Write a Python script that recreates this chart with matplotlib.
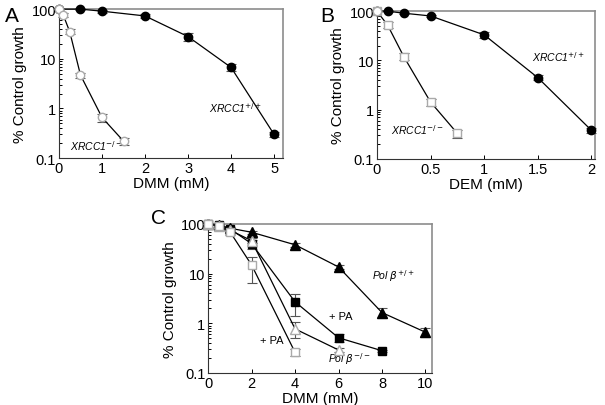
import matplotlib
matplotlib.use("Agg")
import matplotlib.pyplot as plt
import numpy as np

plt.rcParams['font.family'] = ['Liberation Sans', 'DejaVu Sans']

# Panel A (DMM)
a_wt_x = [0, 0.5, 1, 2, 3, 4, 5]
a_wt_y = [100, 100, 91, 73, 28, 6.7, 0.30]
a_wt_e = [0, 5, 6, 6, 5, 1.0, 0.03]
a_ko_x = [0, 0.1, 0.25, 0.5, 1, 1.5]
a_ko_y = [100, 76, 35, 4.7, 0.66, 0.22]
a_ko_e = [0, 6, 4, 0.6, 0.12, 0.04]

# Panel B (DEM)
b_wt_x = [0, 0.1, 0.25, 0.5, 1, 1.5, 2]
b_wt_y = [100, 100, 91, 80, 33, 4.46, 0.38]
b_wt_e = [0, 5, 5, 5, 5, 0.5, 0.04]
b_ko_x = [0, 0.1, 0.25, 0.5, 0.75]
b_ko_y = [100, 52, 12, 1.43, 0.33]
b_ko_e = [0, 7, 2, 0.25, 0.06]

# Panel C (DMM, Pol beta)
c_wt_x = [0, 0.5, 1, 2, 4, 6, 8, 10]
c_wt_y = [100, 95, 82, 68, 38, 13.6, 1.64, 0.66]
c_wt_e = [0, 4, 4, 4, 3, 1.5, 0.35, 0.13]
c_wtpa_x = [0, 0.5, 1, 2, 4, 6, 8]
c_wtpa_y = [100, 93, 80, 40, 2.7, 0.51, 0.28]
c_wtpa_lo = [0, 4, 4, 8, 1.3, 0.1, 0.01]
c_wtpa_hi = [0, 4, 4, 8, 1.2, 0.1, 0.01]
c_ko_x = [0, 0.5, 1, 2, 4, 6]
c_ko_y = [100, 92, 75, 46, 0.77, 0.29]
c_ko_lo = [0, 4, 5, 5, 0.27, 0.03]
c_ko_hi = [0, 4, 5, 5, 0.28, 0.03]
c_kopa_x = [0, 0.5, 1, 2, 4]
c_kopa_y = [100, 90, 70, 14.9, 0.26]
c_kopa_lo = [0, 5, 8, 8.4, 0.04]
c_kopa_hi = [0, 5, 8, 7.0, 0.04]

a_ticks = [0, 1, 2, 3, 4, 5]
b_ticks = [0, 0.5, 1, 1.5, 2]
b_ticklabels = ['0', '0.5', '1', '1.5', '2']
c_ticks = [0, 2, 4, 6, 8, 10]

fig = plt.figure(figsize=(6.05, 4.06), dpi=100)

def style(ax, xmax, ticks, xlabel, ticklabels=None):
    ax.set_yscale('log')
    ax.set_ylim(0.1, 100)
    ax.set_xlim(0, xmax)
    ax.set_xticks(ticks)
    if ticklabels is not None:
        ax.set_xticklabels(ticklabels)
    ax.set_yticks([0.1, 1, 10, 100])
    ax.set_yticklabels(['0.1', '1', '10', '100'])
    ax.tick_params(axis='both', which='both', direction='in', labelsize=10.5, length=3, width=0.7, pad=2)
    ax.tick_params(axis='y', which='minor', length=2)
    ax.tick_params(axis='x', which='minor', bottom=False)
    for s in ['top', 'right']:
        ax.spines[s].set_color('#8c8c8c')
        ax.spines[s].set_linewidth(1.2)
    for s in ['left', 'bottom']:
        ax.spines[s].set_color('#333333')
        ax.spines[s].set_linewidth(0.8)
    ax.set_xlabel(xlabel, fontsize=11, labelpad=1)
    ax.set_ylabel('% Control growth', fontsize=11, labelpad=3)

ekw = dict(ecolor='#555555', elinewidth=0.8, capsize=3.5, capthick=0.8, lw=0.9, color='black')

def eb(ax, x, y, yerr, **kw):
    c = ax.errorbar(x, y, yerr=yerr, **ekw, **kw)
    for art in c.get_children():
        art.set_clip_on(False)
    return c

lab = dict(fontsize=7.5, style='italic', va='center')

# Panel A
axA = fig.add_axes([0.0975, 0.608, 0.3705, 0.367])
eb(axA, a_wt_x, a_wt_y, a_wt_e, marker='o', ms=6, mfc='black', mec='black', zorder=3)
eb(axA, a_ko_x, a_ko_y, a_ko_e, marker='o', ms=6, mfc='white', mec='#aaaaaa', zorder=4)
style(axA, 5.21, a_ticks, 'DMM (mM)')
axA.text(3.49, 1.05, 'XRCC1$^{+/+}$', **lab)
axA.text(0.25, 0.186, 'XRCC1$^{-/-}$', **lab)
fig.text(0.008, 0.945, 'A', fontsize=15)

# Panel B
axB = fig.add_axes([0.623, 0.606, 0.360, 0.364])
eb(axB, b_wt_x, b_wt_y, b_wt_e, marker='o', ms=6, mfc='black', mec='black', zorder=3)
eb(axB, b_ko_x, b_ko_y, b_ko_e, marker='s', ms=6, mfc='white', mec='#aaaaaa', zorder=4)
axB.plot([0], [100], marker='o', ms=6, mfc='white', mec='#aaaaaa', ls='none', clip_on=False, zorder=5)
style(axB, 2.03, b_ticks, 'DEM (mM)', b_ticklabels)
axB.text(1.45, 12.4, 'XRCC1$^{+/+}$', **lab)
axB.text(0.13, 0.40, 'XRCC1$^{-/-}$', **lab)
fig.text(0.530, 0.945, 'B', fontsize=15)

# Panel C
axC = fig.add_axes([0.344, 0.079, 0.370, 0.367])
eb(axC, c_wt_x, c_wt_y, c_wt_e, marker='^', ms=6.5, mfc='black', mec='black', zorder=3)
eb(axC, c_wtpa_x, c_wtpa_y, [c_wtpa_lo, c_wtpa_hi], marker='s', ms=5.5, mfc='black', mec='black', zorder=3)
eb(axC, c_ko_x, c_ko_y, [c_ko_lo, c_ko_hi], marker='^', ms=6.5, mfc='white', mec='#aaaaaa', zorder=4)
eb(axC, c_kopa_x, c_kopa_y, [c_kopa_lo, c_kopa_hi], marker='s', ms=5.5, mfc='white', mec='#aaaaaa', zorder=4)
style(axC, 10.3, c_ticks, 'DMM (mM)')
axC.text(7.55, 9.4, 'Pol $\\beta^{+/+}$', **lab)
axC.text(5.55, 1.38, '+ PA', fontsize=8, va='center')
axC.text(2.39, 0.47, '+ PA', fontsize=8, va='center')
axC.text(5.5, 0.2, 'Pol $\\beta^{-/-}$', **lab)
fig.text(0.250, 0.448, 'C', fontsize=15)

fig.savefig('out.png', dpi=100)
